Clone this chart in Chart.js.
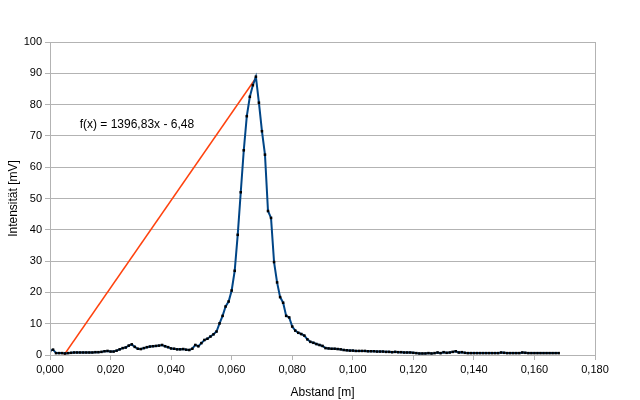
<!DOCTYPE html>
<html>
<head>
<meta charset="utf-8">
<script src="https://cdn.jsdelivr.net/npm/chart.js@4/dist/chart.umd.min.js"></script>
<style>
    html, body { margin: 0; padding: 0; background: #fff; }
    #wrap { width: 640px; height: 400px; }
</style>
</head>
<body>
<div id="wrap"><canvas id="chartIntensity" width="640" height="400"></canvas></div>
<script>
// Messwerte: Abstand in m (Schritt 0,001), Intensitaet in mV
var abstand = [];
for (var i = 0; i <= 168; i++) { abstand.push(i / 1000); }

var intensitaet = [
    1.3, 1.7, 0.6, 0.6, 0.6, 0.5, 0.6, 0.7, 0.8, 0.8,
    0.8, 0.8, 0.8, 0.8, 0.8, 0.9, 0.9, 1.0, 1.2, 1.3,
    1.1, 1.1, 1.4, 1.8, 2.2, 2.4, 3.0, 3.4, 2.6, 2.0,
    1.9, 2.2, 2.5, 2.7, 2.8, 2.9, 3.0, 3.2, 2.8, 2.5,
    2.1, 2.0, 1.8, 1.8, 1.9, 1.7, 1.6, 2.0, 3.2, 2.8,
    3.8, 4.8, 5.2, 5.9, 6.6, 7.5, 10.1, 12.5, 15.5, 17.1,
    20.6, 26.9, 38.4, 52.0, 65.4, 76.3, 82.5, 86.2, 88.9, 80.6,
    71.5, 64.0, 46.0, 43.8, 29.7, 23.2, 18.5, 16.7, 12.5, 12.0,
    9.1, 7.8, 7.1, 6.7, 6.2, 5.0, 4.2, 3.9, 3.5, 3.2,
    2.9, 2.2, 2.1, 2.0, 2.0, 1.9, 1.8, 1.6, 1.5, 1.4,
    1.4, 1.3, 1.3, 1.3, 1.3, 1.2, 1.2, 1.2, 1.1, 1.1,
    1.1, 1.0, 1.0, 0.9, 1.0, 0.9, 0.9, 0.8, 0.8, 0.8,
    0.7, 0.6, 0.5, 0.5, 0.5, 0.6, 0.5, 0.6, 0.8, 0.6,
    0.9, 0.7, 0.8, 1.0, 1.2, 0.8, 0.9, 0.7, 0.6, 0.6,
    0.6, 0.6, 0.6, 0.6, 0.6, 0.6, 0.6, 0.6, 0.6, 0.8,
    0.7, 0.6, 0.6, 0.6, 0.6, 0.6, 0.8, 0.7, 0.6, 0.6,
    0.6, 0.6, 0.6, 0.6, 0.6, 0.6, 0.6, 0.6, 0.6
];

// Trendlinie f(x) = 1396,83x - 6,48 (Endpunkte)
var trendX = [0.00464, 0.068];
var trendY = [0, 88.5];
var trendLabel = 'f(x) = 1396,83x - 6,48';
var trendLabelPos = [0.0098, 73.6];

var messPunkte = abstand.map(function (x, i) { return { x: x, y: intensitaet[i] }; });
var trendPunkte = trendX.map(function (x, i) { return { x: x, y: trendY[i] }; });

var FONT = 'Liberation Sans, Arial, sans-serif';

var framePlugin = {
    id: 'frame',
    afterDraw: function (chart) {
        var a = chart.chartArea;
        var ctx = chart.ctx;
        ctx.save();
        ctx.strokeStyle = '#b3b3b3';
        ctx.lineWidth = 1;
        ctx.strokeRect(Math.round(a.left) + 0.5, Math.round(a.top) + 0.5,
            Math.round(a.right - a.left), Math.round(a.bottom - a.top));
        ctx.fillStyle = '#000';
        ctx.font = '12px ' + FONT;
        ctx.textBaseline = 'middle';
        ctx.textAlign = 'left';
        ctx.fillText(trendLabel,
            chart.scales.x.getPixelForValue(trendLabelPos[0]),
            chart.scales.y.getPixelForValue(trendLabelPos[1]));
        ctx.restore();
    }
};

var canvas = document.getElementById('chartIntensity');
new Chart(canvas, {
    type: 'scatter',
    data: {
        datasets: [{
            label: 'Trend',
            data: trendPunkte,
            showLine: true,
            borderColor: '#ff420e',
            borderWidth: 1.5,
            pointRadius: 0,
            order: 2
        }, {
            label: 'Intensität',
            data: messPunkte,
            showLine: true,
            borderColor: '#004586',
            borderWidth: 2,
            pointStyle: 'rect',
            pointRadius: 1.8,
            pointBackgroundColor: '#000',
            pointBorderWidth: 0,
            order: 1
        }]
    },
    options: {
        responsive: false,
        animation: false,
        layout: { padding: { left: 0, right: 45, top: 42, bottom: 0 } },
        plugins: {
            legend: { display: false },
            tooltip: { enabled: false }
        },
        scales: {
            x: {
                type: 'linear',
                min: 0,
                max: 0.18,
                afterFit: function (s) { s.height = 45; },
                ticks: {
                    stepSize: 0.02,
                    color: '#000',
                    font: { family: FONT, size: 11 },
                    padding: 3,
                    maxRotation: 0,
                    callback: function (v) { return v.toFixed(3).replace('.', ','); }
                },
                grid: { drawOnChartArea: false, drawTicks: true, tickLength: 5, color: '#b3b3b3' },
                border: { color: '#b3b3b3' },
                title: {
                    display: true,
                    text: 'Abstand [m]',
                    color: '#000',
                    font: { family: FONT, size: 12 },
                    padding: { top: 4, bottom: 0 }
                }
            },
            y: {
                min: 0,
                max: 100,
                afterFit: function (s) { s.width = 50; },
                ticks: {
                    stepSize: 10,
                    color: '#000',
                    font: { family: FONT, size: 11 },
                    padding: 3
                },
                grid: { color: '#b3b3b3', tickLength: 5 },
                border: { color: '#b3b3b3' },
                title: {
                    display: true,
                    text: 'Intensität [mV]',
                    color: '#000',
                    font: { family: FONT, size: 12 },
                    padding: { top: 6, bottom: 2 }
                }
            }
        }
    },
    plugins: [framePlugin]
});
</script>
</body>
</html>
